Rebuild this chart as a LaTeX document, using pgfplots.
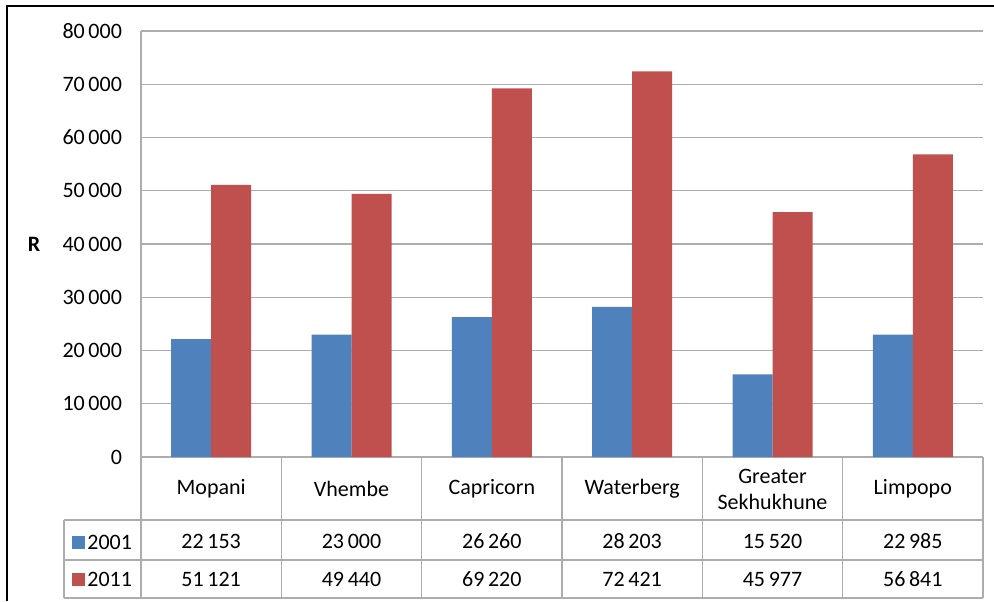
\documentclass[border=0pt]{standalone}
\usepackage{fontspec}
\setmainfont{Carlito}
\usepackage{pgfplots}
\pgfplotsset{compat=1.18}
\definecolor{blu}{HTML}{4F81BD}
\definecolor{rd}{HTML}{C0504D}
\definecolor{gridc}{HTML}{ADADAD}

\begin{document}
\begin{tikzpicture}[font=\fontsize{11}{13}\selectfont]
\begin{axis}[
  name=ax,
  width=421pt, height=213pt, scale only axis,
  ybar=0pt, bar width=20pt,
  xmin=-0.5, xmax=5.5, ymin=0, ymax=80000,
  ytick distance=10000, scaled y ticks=false,
  xtick=data,
  xticklabels={Mopani,Vhembe,Capricorn,Waterberg,{Greater\\Sekhukhune},Limpopo},
  xticklabel style={anchor=center, yshift=-16pt, align=center},
  yticklabel style={xshift=-6pt},
  /pgf/number format/.cd, 1000 sep={\,}, assume math mode=true, /pgfplots/.cd,
  axis lines*=left,
  axis line style={gridc, line width=0.6pt},
  major tick length=0pt,
  ymajorgrids, grid style={gridc, line width=0.6pt},
  clip=false,
]
\addplot[fill=blu, draw=none] coordinates {(0,22153) (1,23000) (2,26260) (3,28203) (4,15520) (5,22985)};
\addplot[fill=rd, draw=none] coordinates {(0,51121) (1,49440) (2,69220) (3,72421) (4,45977) (5,56841)};
\end{axis}

% everything else in reference pixels relative to the plot corner (141,457)
\begin{scope}[shift={(ax.south west)}, x=0.5pt, y=0.5pt]
\path[use as bounding box] (-141,-144) rectangle (853,457);
\draw[line width=1.3pt] (-134,-144) -- (-134,451) -- (853,451);

% y label
\node at (-107,213) {\textbf{R}};

% data table grid
\begin{scope}[gridc, line width=0.6pt]
\foreach \xx in {0,140.33,280.67,421,561.33,701.67,842}
  \draw (\xx,0) -- (\xx,-141);
\draw (-77,-63) -- (-77,-141);
\foreach \yy in {-63,-103,-141}
  \draw (-77,\yy) -- (842,\yy);
\end{scope}

% legend keys
\fill[blu] (-69,-92) rectangle (-56,-79);
\fill[rd] (-69,-129) rectangle (-56,-116);
\node[anchor=west, inner sep=0pt] at (-54,-85) {2001};
\node[anchor=west, inner sep=0pt] at (-54,-122) {2011};

% table values
\foreach \v [count=\i from 0] in {22\,153,23\,000,26\,260,28\,203,15\,520,22\,985}
  \node at ({140.33*(\i+0.5)},-84) {\v};
\foreach \v [count=\i from 0] in {51\,121,49\,440,69\,220,72\,421,45\,977,56\,841}
  \node at ({140.33*(\i+0.5)},-122) {\v};
\end{scope}
\end{tikzpicture}
\end{document}
